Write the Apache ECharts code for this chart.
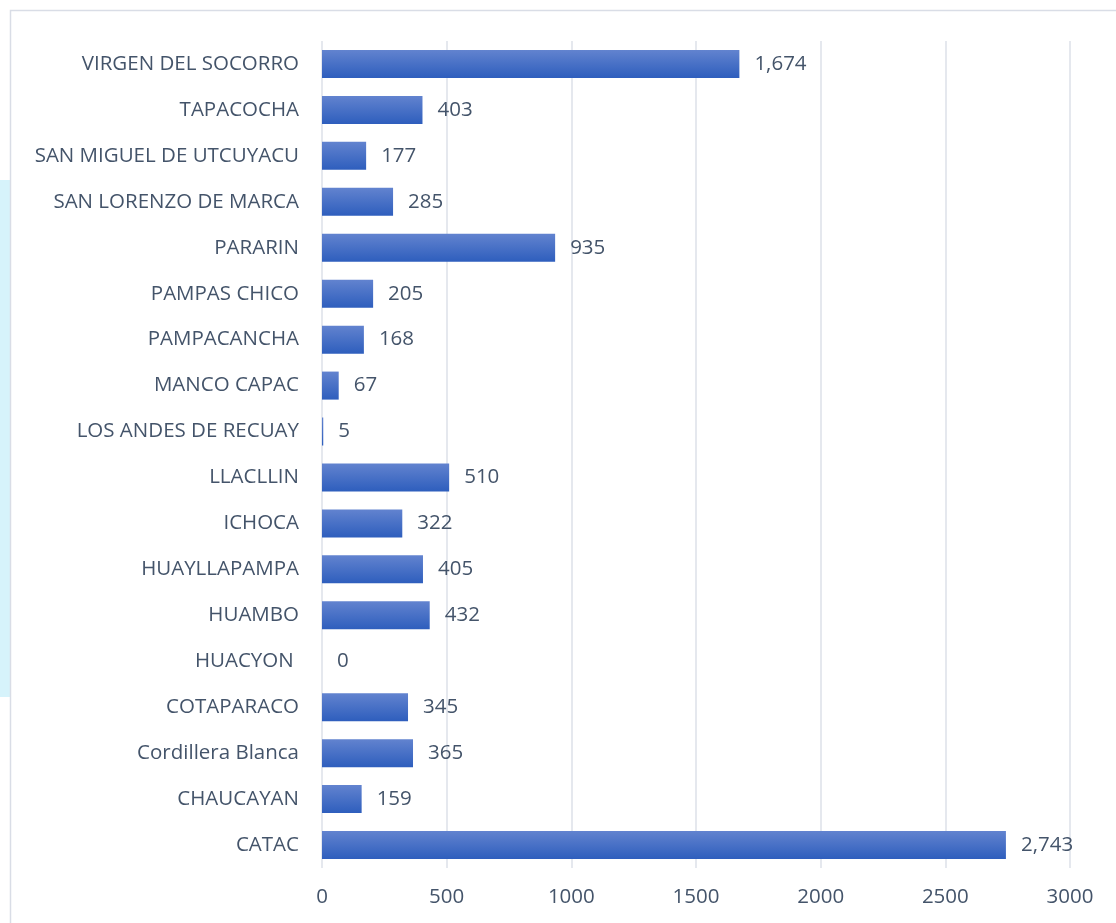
<!DOCTYPE html>
<html><head><meta charset="utf-8">
<script src="https://cdn.jsdelivr.net/npm/echarts@6/dist/echarts.min.js"></script>
<style>html,body{margin:0;padding:0;background:#fff}#c{width:1116px;height:923px}</style>
</head><body><div id="c"></div>
<script>
const categories = ["CATAC","CHAUCAYAN","Cordillera Blanca","COTAPARACO","HUACYON ","HUAMBO","HUAYLLAPAMPA","ICHOCA","LLACLLIN","LOS ANDES DE RECUAY","MANCO CAPAC","PAMPACANCHA","PAMPAS CHICO","PARARIN","SAN LORENZO DE MARCA","SAN MIGUEL DE UTCUYACU","TAPACOCHA","VIRGEN DEL SOCORRO"];
const values = [2743,159,365,345,0,432,405,322,510,5,67,168,205,935,285,177,403,1674];
const xTicks = [0,500,1000,1500,2000,2500,3000];

const chart = echarts.init(document.getElementById('c'), null, {renderer:'canvas'});
const font = 'Open Sans';
chart.setOption({
  animation:false,
  graphic:[
    {type:'rect', shape:{x:0,y:180,width:10,height:517}, style:{fill:'#d6f3fb'}, z:-10},
    {type:'rect', shape:{x:10.5,y:10.5,width:1120,height:930}, style:{fill:'none',stroke:'#d9dde6',lineWidth:1.5}, z:-5}
  ],
  grid:{left:322,right:46,top:41,bottom:55,containLabel:false},
  xAxis:{type:'value',min:0,max:3000,interval:500,
    axisLine:{show:false},axisTick:{show:false},
    splitLine:{lineStyle:{color:'#dde1e8',width:1.5}},
    axisLabel:{color:'#44546a',fontSize:20.5,fontFamily:font,margin:19,
      formatter:v=>xTicks.includes(v)?String(v):''}},
  yAxis:{type:'category',data:categories,
    axisLine:{show:false},axisTick:{show:false},
    axisLabel:{color:'#44546a',fontSize:20.5,fontFamily:font,margin:23}},
  series:[{type:'bar',data:values,barCategoryGap:'39%',
    itemStyle:{color:new echarts.graphic.LinearGradient(0,0,0,1,[{offset:0,color:'#6283cf'},{offset:1,color:'#2e5ebd'}])},
    label:{show:true,position:'right',distance:15,color:'#44546a',fontSize:20.5,fontFamily:font,
      formatter:p=>p.value.toLocaleString('en-US')}}]
});
</script></body></html>
